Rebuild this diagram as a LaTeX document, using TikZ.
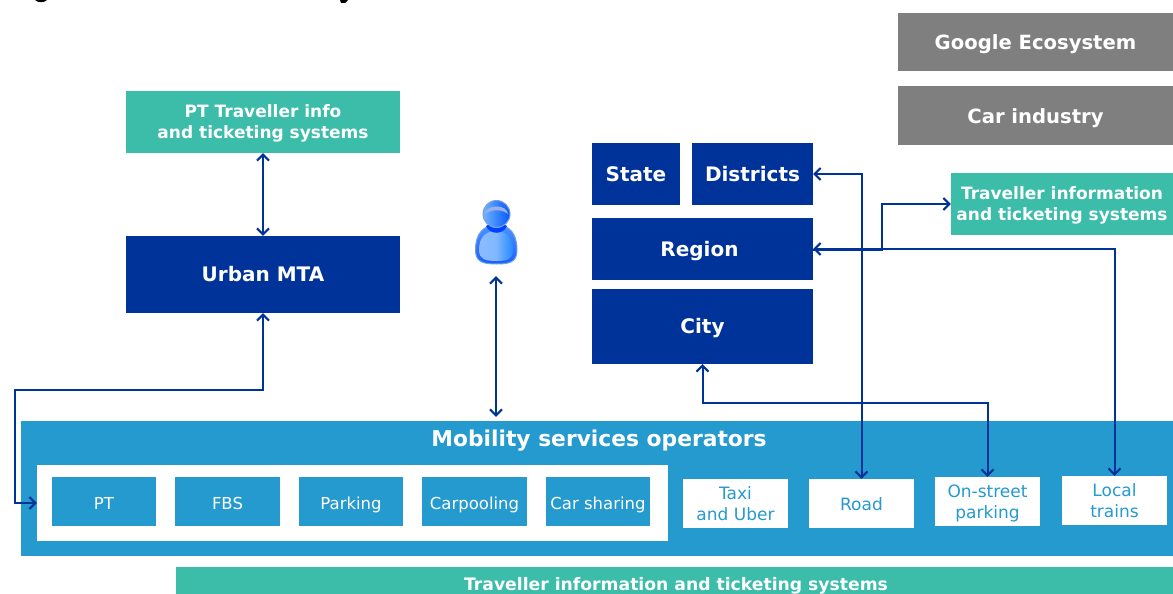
\documentclass[tikz,border=0pt]{standalone}
\usepackage{fontspec}
\setmainfont{DejaVu Sans}
\usetikzlibrary{arrows.meta,calc}
\definecolor{navy}{HTML}{003399}
\definecolor{sky}{HTML}{259ACE}
\definecolor{teal}{HTML}{3CBDAA}
\definecolor{greybox}{HTML}{7F7F7F}
\tikzset{
  box/.style={inner sep=0pt,align=center,text=white,font=\fontsize{#1}{21}\bfseries\selectfont},
  box/.default=20,
  sized/.style 2 args={minimum width=#1pt,minimum height=#2pt},
  dark/.style={box,fill=navy,text height=14pt,text depth=0pt},
  green/.style={box=17,fill=teal,text depth=1.6pt},
  grey/.style={box=19.6,fill=greybox,text height=15pt,text depth=0pt},
  lblue/.style={inner sep=0pt,align=center,text=white,fill=sky,font=\fontsize{16.5}{21}\selectfont,minimum width=104.5pt,minimum height=49pt,text height=15pt,text depth=0pt},
  wbox/.style={inner sep=0pt,align=center,text=sky,fill=white,font=\fontsize{17}{20.5}\selectfont,minimum width=104.5pt,minimum height=49pt},
  link/.style={draw=navy,line width=2pt,{Straight Barb[length=6pt,width=12pt,line width=2pt]}-{Straight Barb[length=6pt,width=12pt,line width=2pt]}},
  oneway/.style={draw=navy,line width=2pt,-{Straight Barb[length=6pt,width=12pt,line width=2pt]}}
}
\begin{document}
\begin{tikzpicture}[x=1pt,y=-1pt]
\useasboundingbox (0,0) rectangle (1173,594);
\fill[white] (0,0) rectangle (1173,594);
% remnants of the cropped heading
\fill[black] (35,0) .. controls (38,3) and (44,3) .. (47,0) -- cycle;
\fill[black] (340,0) -- (348,0) -- (345,3) -- (341,3) -- cycle;
% boxes
\node[grey,sized={275}{58}] (google) at (1035.5,42) {Google Ecosystem};
\node[grey,sized={275}{59}] (car) at (1035.5,115.5) {Car industry};
\node[green,sized={222}{62}] (tisright) at (1062,204) {Traveller information\\and ticketing systems};
\node[green,sized={274}{62}] (pttis) at (263,122) {PT Traveller info\\and ticketing systems};
\node[dark,sized={274}{77}] (urban) at (263,274.5) {Urban MTA};
\node[dark,sized={88}{62}] (state) at (636,174) {State};
\node[dark,sized={121}{62}] (districts) at (752.5,174) {Districts};
\node[dark,sized={221}{62}] (region) at (702.5,249) {Region\hspace*{6pt}};
\node[dark,sized={221}{75}] (city) at (702.5,326.5) {City};
\node[fill=sky,inner sep=0pt,sized={1152}{135}] (mob) at (597,488.5) {};
\node[box=21.8,anchor=base] (mobtitle) at (599,446.5) {Mobility services operators};
\node[fill=white,inner sep=0pt,sized={631}{76}] (white) at (352.5,503) {};
\node[lblue] (pt) at (104,501.5) {PT};
\node[lblue] (fbs) at (227.5,501.5) {FBS};
\node[lblue] (parking) at (351,501.5) {Parking};
\node[lblue] (carpool) at (474.5,501.5) {Carpooling};
\node[lblue] (carsh) at (598,501.5) {Car sharing};
\node[wbox] (taxi) at (735.5,503.5) {Taxi\\and Uber};
\node[wbox,text height=13pt,text depth=0pt] (road) at (861.5,503.5) {Road};
\node[wbox,text depth=-3.5pt] (onstreet) at (987.5,501.5) {On-street\\parking};
\node[wbox,text depth=-1pt] (local) at (1114.5,500.5) {Local\\trains};
\fill[teal] (176,567) rectangle (1173,594);
\node[inner sep=0pt,text=white,font=\fontsize{17.2}{20}\bfseries\selectfont,anchor=base] (tisbottom) at (676,590) {Traveller information and ticketing systems};
% person
\node[inner sep=0pt,sized={44}{76}] (person) at (496,238) {};
\shade[top color=blue!60!cyan!70,bottom color=blue!70!cyan!90,draw=cyan!60!blue!60,line width=1pt]
  (475.5,250) .. controls (475.5,234) and (483,225) .. (496.5,225) .. controls (510,225) and (517,234) .. (517,250)
  .. controls (517,262) and (510,264) .. (496.5,264) .. controls (483,264) and (475.5,262) .. (475.5,250) -- cycle;
\shade[left color=cyan!40!blue!45,right color=blue!55!cyan!85,middle color=cyan!45!blue!50,draw=none]
  (479,250) .. controls (479,238) and (485,231) .. (496.5,231) .. controls (506,231) and (513,238) .. (513,250)
  .. controls (513,259) and (508,261) .. (496.5,261) .. controls (485,261) and (479,259) .. (479,250) -- cycle;
\fill[blue!75!cyan] (486,226) .. controls (490,223) and (503,223) .. (507,226) .. controls (503,235) and (490,235) .. (486,226) -- cycle;
\shade[left color=cyan!45!blue!55,right color=blue!65!cyan,draw=cyan!50!blue!55,line width=1pt] (496.5,214) circle (13.5);
\fill[cyan!45!blue!40] (485,214) .. controls (486,204) and (507,204) .. (508,214) .. controls (502,209) and (491,209) .. (485,214) -- cycle;
% connectors
\draw[link] (pttis.south) -- (urban.north);
\coordinate (urbanbend) at (15,390);
\draw[link] (urban.south) |- (urbanbend) |- (white.west);
\draw[link,shorten >=4pt] (person.south) -- (person.south |- mob.north);
\draw[link] (districts.east) -| (road.north);
\draw[link] (region.east) -| (local.north);
\coordinate (tisfork) at (881.5,248);
\draw[oneway] ([yshift=-.7pt]region.east) -| (tisfork) |- (tisright.west);
\coordinate (citybend) at (845,403);
\draw[link] (city.south) |- (citybend) -| (onstreet.north);
\end{tikzpicture}
\end{document}
